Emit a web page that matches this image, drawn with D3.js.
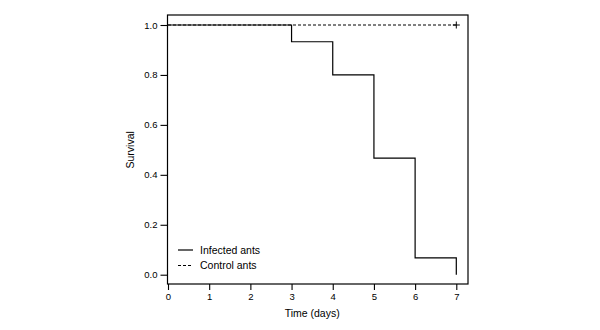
<!DOCTYPE html>
<html><head><meta charset="utf-8">
<script src="https://cdn.jsdelivr.net/npm/d3@7"></script>
<style>body{margin:0;background:#fff}svg{display:block}text{font-family:"Liberation Sans",Arial,sans-serif;fill:#000}</style>
</head><body><svg id="c" width="600" height="330"></svg>
<script>
const infectedTimes = [0, 3, 4, 5, 6, 7];
const infectedSurv = [1.0, 0.933, 0.8, 0.467, 0.067, 0.0];
const controlTimes = [0, 7];
const controlSurv = [1.0, 1.0];
const xTicks = [0, 1, 2, 3, 4, 5, 6, 7];
const yTicks = [0.0, 0.2, 0.4, 0.6, 0.8, 1.0];
const legendLabels = ["Infected ants", "Control ants"];

const svg = d3.select("#c");
const x = d3.scaleLinear().domain([0, 7]).range([168, 456.3]);
const y = d3.scaleLinear().domain([0, 1]).range([274.7, 25]);
const box = {l: 167.5, r: 468, t: 15, b: 284};

svg.append("rect").attr("x", box.l).attr("y", box.t).attr("width", box.r - box.l).attr("height", box.b - box.t)
  .attr("fill", "none").attr("stroke", "#000").attr("stroke-width", 1.2);

const xa = svg.append("g").attr("transform", `translate(0,${box.b})`)
  .call(d3.axisBottom(x).tickValues(xTicks).tickFormat(d3.format("d")).tickSize(6).tickPadding(3));
const ya = svg.append("g").attr("transform", `translate(${box.l},0)`)
  .call(d3.axisLeft(y).tickValues(yTicks).tickFormat(d3.format(".1f")).tickSize(7).tickPadding(3));
[xa, ya].forEach(a => {
  a.select(".domain").remove();
  a.selectAll("line").attr("stroke", "#000").attr("stroke-width", 1.1);
  a.selectAll("text").style("font-size", "9.5px").style("font-family", '"Liberation Sans",Arial,sans-serif');
});

const stepLine = d3.line().x(d => x(d[0])).y(d => y(d[1])).curve(d3.curveStepAfter);

const cData = controlTimes.map((t, i) => [t, controlSurv[i]]);
svg.append("path").attr("d", stepLine(cData)).attr("fill", "none").attr("stroke", "#000")
  .attr("stroke-width", 1).attr("stroke-dasharray", "3,2");

const iData = infectedTimes.map((t, i) => [t, infectedSurv[i]]);
svg.append("path").attr("d", stepLine(iData)).attr("fill", "none").attr("stroke", "#000").attr("stroke-width", 1.2);

// censor mark
const cx = x(controlTimes[1]), cy = y(controlSurv[1]);
svg.append("path").attr("d", `M${cx-3.5},${cy}H${cx+3.5}M${cx},${cy-3.5}V${cy+3.5}`)
  .attr("stroke", "#000").attr("stroke-width", 1);

// legend
legendLabels.forEach((lab, i) => {
  const ly = 250 + i * 15.5;
  svg.append("line").attr("x1", 178).attr("x2", 193).attr("y1", ly).attr("y2", ly)
    .attr("stroke", "#000").attr("stroke-width", i === 0 ? 1.2 : 1)
    .attr("stroke-dasharray", i === 0 ? null : "3,2");
  svg.append("text").attr("x", 200).attr("y", ly).attr("dy", "0.35em").style("font-size", "10.5px").text(lab);
});

svg.append("text").attr("x", (x(0) + x(7)) / 2).attr("y", 317).attr("text-anchor", "middle")
  .style("font-size", "10.5px").text("Time (days)");
svg.append("text").attr("transform", `translate(134,${(y(0)+y(1))/2}) rotate(-90)`).attr("text-anchor", "middle")
  .style("font-size", "10.5px").text("Survival");
</script></body></html>
